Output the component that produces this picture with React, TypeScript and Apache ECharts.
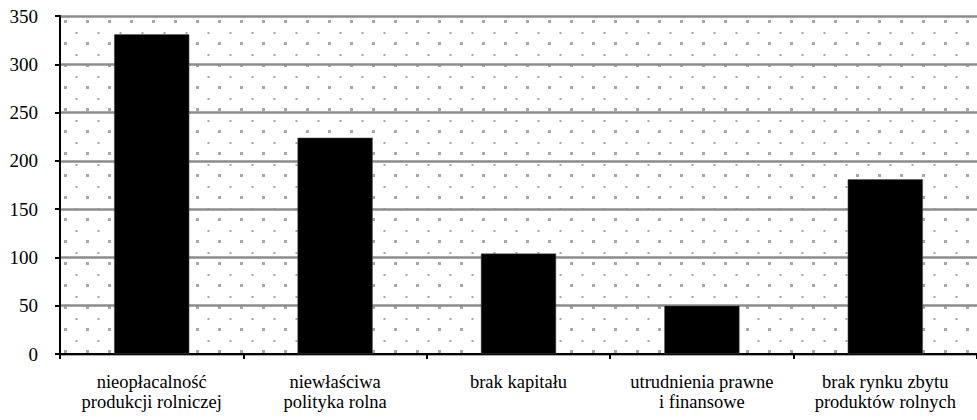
import React, { useEffect, useRef } from "react";
import * as echarts from "echarts";

const categories: string[] = [
  "nieopłacalność\nprodukcji rolniczej",
  "niewłaściwa\npolityka rolna",
  "brak kapitału",
  "utrudnienia prawne\ni finansowe",
  "brak rynku zbytu\nproduktów rolnych",
];
const values: number[] = [331, 224, 104, 50, 181];
const yMin = 0;
const yMax = 350;
const yInterval = 50;

const FONT = "Liberation Serif";

const tileSvg =
  '<svg xmlns="http://www.w3.org/2000/svg" width="22" height="22">' +
  '<g fill="#a8a8a8">' +
  '<rect x="20" y="20" width="2" height="2"/>' +
  '<rect x="0" y="20" width="1" height="2"/>' +
  '<rect x="20" y="0" width="2" height="1"/>' +
  '<rect x="0" y="0" width="1" height="1"/>' +
  '<rect x="9.5" y="10" width="2" height="2"/>' +
  "</g></svg>";
const tileUrl = "data:image/svg+xml;charset=utf-8," + encodeURIComponent(tileSvg);

export default function App() {
  const ref = useRef<HTMLDivElement>(null);
  useEffect(() => {
    if (!ref.current) return;
    const chart = echarts.init(ref.current, undefined, { renderer: "svg" });
    chart.setOption({
      animation: false,
      backgroundColor: "#fff",
      textStyle: { fontFamily: FONT },
      grid: {
        left: 60,
        right: 0,
        top: 16,
        bottom: 66,
        show: true,
        borderWidth: 0,
        backgroundColor: {
          image: tileUrl,
          repeat: "repeat",
          imageWidth: 22,
          imageHeight: 22,
        } as any,
      },
      xAxis: {
        type: "category",
        data: categories,
        axisLine: { show: true, lineStyle: { color: "#000", width: 2 } },
        axisTick: { show: true, length: 5, lineStyle: { color: "#000", width: 2 } },
        axisLabel: {
          interval: 0,
          margin: 18,
          color: "#000",
          fontFamily: FONT,
          fontSize: 18.5,
          lineHeight: 20,
          align: "center",
        },
        splitLine: { show: false },
      },
      yAxis: {
        type: "value",
        min: yMin,
        max: yMax,
        interval: yInterval,
        axisLine: { show: true, lineStyle: { color: "#000", width: 2 } },
        axisTick: { show: true, inside: false, length: 5, lineStyle: { color: "#000", width: 2 } },
        axisLabel: {
          margin: 22,
          color: "#000",
          fontFamily: FONT,
          fontSize: 19,
        },
        splitLine: { show: true, lineStyle: { color: "#8c8c8c", width: 2.5 } },
      },
      series: [
        {
          type: "bar",
          data: values,
          barWidth: "41%",
          itemStyle: { color: "#000", borderColor: "#555", borderWidth: 0.5 },
        },
      ],
    });
    return () => chart.dispose();
  }, []);
  return (
    <div
      ref={ref}
      style={{ position: "fixed", left: 0, top: 0, width: 977, height: 420, background: "#fff" }}
    />
  );
}
